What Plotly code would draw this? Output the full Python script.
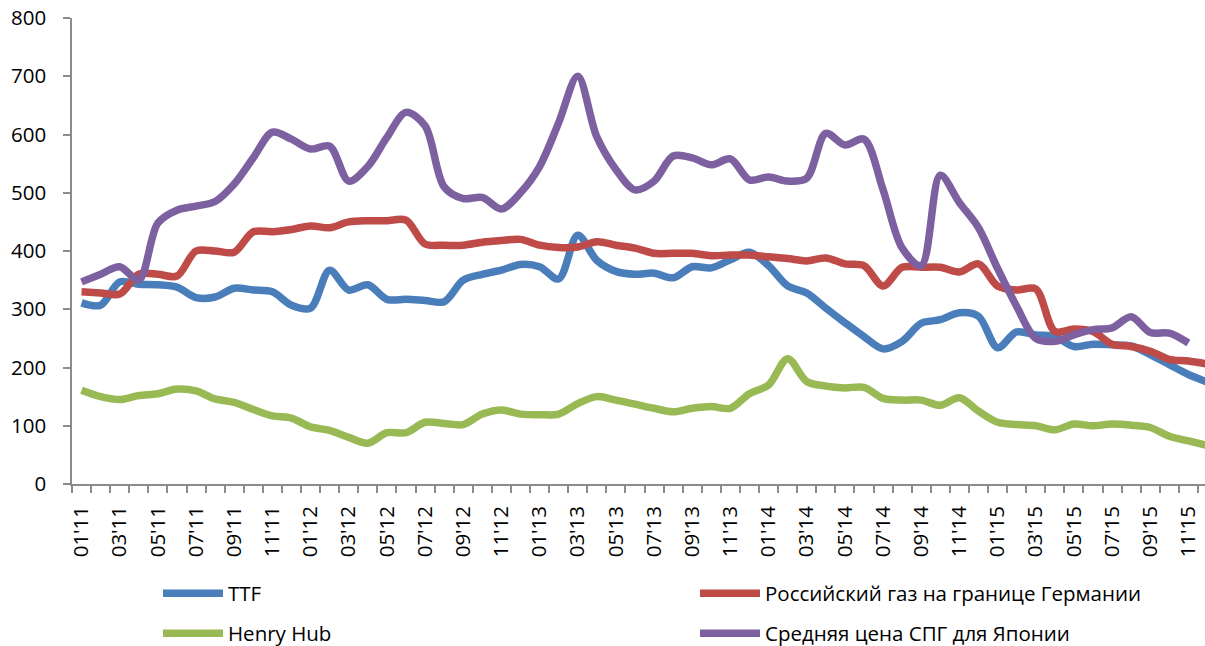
import plotly.graph_objects as go

months = ["01'11","02'11","03'11","04'11","05'11","06'11","07'11","08'11","09'11","10'11","11'11","12'11",
          "01'12","02'12","03'12","04'12","05'12","06'12","07'12","08'12","09'12","10'12","11'12","12'12",
          "01'13","02'13","03'13","04'13","05'13","06'13","07'13","08'13","09'13","10'13","11'13","12'13",
          "01'14","02'14","03'14","04'14","05'14","06'14","07'14","08'14","09'14","10'14","11'14","12'14",
          "01'15","02'15","03'15","04'15","05'15","06'15","07'15","08'15","09'15","10'15","11'15","12'15"]

ttf = [311, 307, 347, 343, 342, 338, 320, 321, 336, 333, 330, 307,
       302, 367, 333, 342, 317, 317, 315, 313, 350, 360, 367, 377,
       373, 352, 427, 384, 365, 360, 362, 354, 373, 371, 385, 398,
       375, 340, 328, 302, 277, 253, 232, 245, 276, 282, 294, 288,
       234, 261, 256, 253, 236, 240, 239, 237, 222, 205, 188, 175]

russia = [330, 328, 326, 360, 360, 357, 400, 400, 398, 433, 433, 437,
          443, 440, 450, 452, 452, 453, 412, 410, 410, 415, 418, 420,
          410, 406, 407, 416, 410, 405, 396, 396, 396, 392, 393, 393,
          390, 387, 383, 388, 378, 375, 340, 372, 372, 372, 364, 378,
          340, 333, 335, 262, 266, 262, 240, 236, 228, 214, 211, 206]

henry_hub = [161, 150, 145, 152, 155, 163, 160, 146, 140, 128, 117, 113,
             98, 92, 80, 70, 88, 88, 106, 104, 102, 120, 127, 120,
             119, 120, 138, 150, 144, 137, 130, 124, 130, 133, 130, 155,
             170, 215, 176, 168, 165, 166, 147, 144, 144, 135, 148, 125,
             106, 102, 100, 93, 103, 100, 103, 101, 97, 82, 74, 66]

japan = [347, 360, 373, 350, 448, 470, 477, 485, 515, 560, 604, 592,
         575, 580, 520, 545, 595, 638, 615, 510, 490, 492, 472, 500,
         545, 620, 700, 596, 540, 505, 520, 563, 560, 548, 558, 522,
         527, 520, 525, 602, 582, 592, 505, 405, 375, 530, 483, 440,
         370, 305, 250, 245, 256, 265, 268, 287, 260, 259, 242, None]

series_names = ["TTF", "Российский газ на границе Германии", "Henry Hub", "Средняя цена СПГ для Японии"]
y_ticks = [0, 100, 200, 300, 400, 500, 600, 700, 800]

colors = ["#4A7EBB", "#BE4B48", "#98B954", "#7D60A0"]
legend_ids = ["legend", "legend2", "legend3", "legend4"]
data = [ttf, russia, henry_hub, japan]

x_idx = list(range(len(months)))
FONT = "Open Sans"
FS = 20.5

W, H = 1205, 646
# plot area in page pixels: left 72, right 1205, top 17.6, bottom 484.3
PL, PR, PT, PB = 72, 1205, 17.6, 484.3

def px_x(p):
    return (p - PL) / (PR - PL)

def px_y(p):
    return (PB - p) / (PB - PT)

fig = go.Figure()
for name, vals, col, lg in zip(series_names, data, colors, legend_ids):
    fig.add_trace(go.Scatter(
        x=x_idx, y=vals, name=name, mode="lines",
        line=dict(color=col, width=7.5, shape="spline", smoothing=0.9),
        legend=lg, cliponaxis=True,
    ))

label_vals = x_idx[::2]
label_text = months[::2]

# legend anchor points in page pixels (left edge, row centre)
legend_pos = [(158, 594), (695, 594), (158, 634), (695, 634)]
legend_cfg = {}
for lg, (lx, ly) in zip(legend_ids, legend_pos):
    legend_cfg[lg] = dict(
        orientation="h", x=px_x(lx), xanchor="left", y=px_y(ly), yanchor="middle",
        itemwidth=60, font=dict(family=FONT, size=FS, color="#000000"),
        bgcolor="rgba(0,0,0,0)", borderwidth=0,
    )

fig.update_layout(
    width=W, height=H,
    margin=dict(l=PL, r=W - PR, t=PT, b=H - PB, pad=0, autoexpand=False),
    paper_bgcolor="white", plot_bgcolor="white",
    font=dict(family=FONT, size=FS, color="#000000"),
    showlegend=True,
    xaxis=dict(
        range=[-0.5, 58.87], showgrid=False, zeroline=False,
        showline=True, linecolor="#8C8C8C", linewidth=1.5,
        tickmode="array", tickvals=label_vals, ticktext=label_text,
        tickangle=-90, ticks="", ticklabelstandoff=12, automargin=False,
        ticklabeloverflow="allow",
        tickfont=dict(family=FONT, size=FS, color="#000000"),
        minor=dict(tickmode="array", tickvals=[k - 0.5 for k in range(len(months) + 1)],
                   ticks="outside", ticklen=7, tickcolor="#8C8C8C", tickwidth=1.5, showgrid=False),
    ),
    yaxis=dict(
        range=[0, 800], showgrid=False, zeroline=False,
        showline=True, linecolor="#8C8C8C", linewidth=1.5,
        tickmode="array", tickvals=y_ticks, automargin=False,
        ticks="outside", ticklen=7, tickcolor="#8C8C8C", tickwidth=1.5,
        ticklabelstandoff=13, ticklabeloverflow="allow",
        tickfont=dict(family=FONT, size=FS, color="#000000"),
    ),
    **legend_cfg,
)

# remove the default 8px page margin so the figure sits at the window's top-left corner
fig.write_html("out.html", config={"displayModeBar": False},
               post_script="document.body.style.margin='0';")
